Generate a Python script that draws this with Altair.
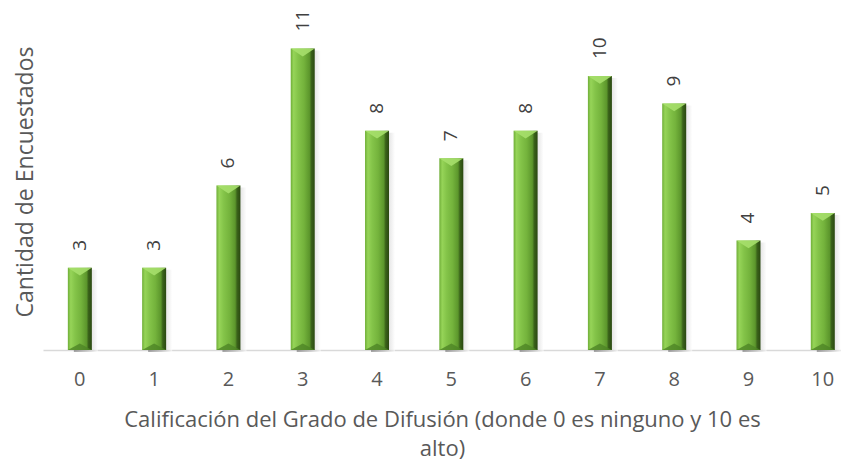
import altair as alt
import pandas as pd

categories = ["0", "1", "2", "3", "4", "5", "6", "7", "8", "9", "10"]
counts = [3, 3, 6, 11, 8, 7, 8, 10, 9, 4, 5]

df = pd.DataFrame({"cat": categories, "n": counts, "zero": [0] * len(counts)})

FONT = "Open Sans"
GREY = "#595959"

xs = alt.Scale(domain=categories, paddingInner=0.677, paddingOuter=0.209, align=0.8)
ys = alt.Scale(domain=[0, 12.3], nice=False)

x = alt.X(
    "cat:N", scale=xs, sort=categories,
    axis=alt.Axis(
        title=["Calificación del Grado de Difusión (donde 0 es ninguno y 10 es", "alto)"],
        labelAngle=0, ticks=False, labelPadding=19, labelFontSize=20, labelColor=GREY,
        labelFont=FONT, domainColor="#d9d9d9", domainWidth=1.5,
        titleFont=FONT, titleFontSize=22, titleFontWeight="normal", titleColor=GREY,
        titleLineHeight=29, titlePadding=20,
    ),
)
y = alt.Y(
    "n:Q", scale=ys,
    axis=alt.Axis(
        title="Cantidad de Encuestados", labels=False, ticks=False, domain=False, grid=False,
        titleFont=FONT, titleFontSize=23, titleFontWeight="normal", titleColor=GREY,
        titlePadding=6,
    ),
)

base = alt.Chart(df)

shadow = base.mark_bar(
    xOffset=6, yOffset=2, opacity=0.6,
    color=alt.Gradient(
        gradient="linear", x1=0, x2=1, y1=0, y2=0,
        stops=[alt.GradientStop(offset=0, color="#6a6a6a"),
               alt.GradientStop(offset=0.55, color="#b5b5b5"),
               alt.GradientStop(offset=1, color="#ffffff")],
    ),
).encode(x=x, y=y)

bars = base.mark_bar(
    color=alt.Gradient(
        gradient="linear", x1=0, x2=1, y1=0, y2=0,
        stops=[alt.GradientStop(offset=0, color="#6fae38"),
               alt.GradientStop(offset=0.12, color="#96d458"),
               alt.GradientStop(offset=0.3, color="#84c449"),
               alt.GradientStop(offset=0.55, color="#74b33c"),
               alt.GradientStop(offset=0.78, color="#5c962c"),
               alt.GradientStop(offset=0.86, color="#3a621a"),
               alt.GradientStop(offset=1, color="#2a4811")],
    ),
).encode(x=x, y=y)

top_bevel = base.mark_point(
    shape="M-1,0L1,0L0,0.65Z", size=576, filled=True, color="#a6df6c", opacity=0.9,
).encode(x=x, y=y)

bottom_bevel = base.mark_point(
    shape="M-1,0L1,0L0,-0.55Z", size=576, filled=True, color="#4e8526", opacity=0.8,
).encode(x=x, y=alt.Y("zero:Q", scale=ys))

labels = base.mark_text(
    angle=270, align="left", baseline="middle", dx=17, font=FONT, fontSize=19, color="#404040",
).encode(x=x, y=y, text="n:Q")

chart = (
    alt.layer(shadow, bars, top_bevel, bottom_bevel, labels)
    .properties(
        width=798, height=337,
        autosize=alt.AutoSizeParams(type="none"),
        padding={"left": 35, "top": 5, "right": 0, "bottom": 113},
    )
    .configure_view(stroke=None)
)

chart.save("out.html", embed_options={"renderer": "svg", "actions": False})
